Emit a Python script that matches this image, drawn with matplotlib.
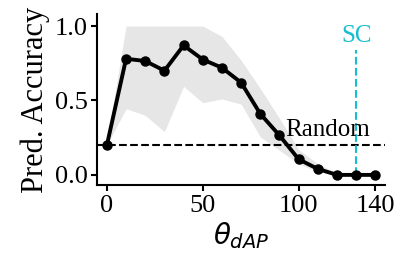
import numpy as np
import matplotlib
matplotlib.use("Agg")
import matplotlib.pyplot as plt

plt.rcParams["font.family"] = ["Liberation Serif", "DejaVu Serif"]
plt.rcParams["mathtext.fontset"] = "dejavusans"

theta = [0, 10, 20, 30, 40, 50, 60, 70, 80, 90, 100, 110, 120, 130, 140]
acc = [0.20, 0.78, 0.765, 0.70, 0.87, 0.775, 0.72, 0.62, 0.41, 0.265, 0.105, 0.04, 0.0, 0.0, 0.0]
acc_hi = [0.22, 1.0, 1.0, 1.0, 1.0, 1.0, 0.93, 0.77, 0.58, 0.38, 0.17, 0.075, 0.01, 0.0, 0.0]
acc_lo = [0.20, 0.445, 0.40, 0.29, 0.595, 0.485, 0.51, 0.475, 0.255, 0.165, 0.075, 0.02, 0.0, 0.0, 0.0]
random_level = 0.2
sc_theta = 130

fig = plt.figure(figsize=(4.08, 2.77), dpi=100)
ax = fig.add_axes([0.2385, 0.331, 0.705, 0.618])

ax.fill_between(theta, acc_lo, acc_hi, color="#e6e6e6", linewidth=0)
ax.axhline(random_level, color="black", linestyle="--", linewidth=1.5)
ax.plot([sc_theta, sc_theta], [0, 0.84], color="#17becf", linestyle="--", linewidth=1.5)
ax.plot(theta, acc, color="black", linewidth=2.8, marker="o", markersize=6.5)

ax.text(93, 0.225, "Random", fontsize=18, ha="left", va="bottom")
ax.text(sc_theta, 0.935, "SC", fontsize=18, ha="center", va="center", color="#17becf")

ax.set_xlim(-5, 145)
ax.set_ylim(-0.07, 1.08)
ax.set_xticks([0, 50, 100, 140])
ax.set_yticks([0.0, 0.5, 1.0])
ax.spines["top"].set_visible(False)
ax.spines["right"].set_visible(False)
for s in ["left", "bottom"]:
    ax.spines[s].set_linewidth(1.5)
ax.tick_params(width=1.5, length=4, labelsize=19, pad=3)

ax.set_ylabel("Pred. Accuracy", fontsize=22, labelpad=3)
ax.set_xlabel(r"$\theta_{dAP}$", fontsize=20, labelpad=2)

fig.savefig("out.png", dpi=100)
